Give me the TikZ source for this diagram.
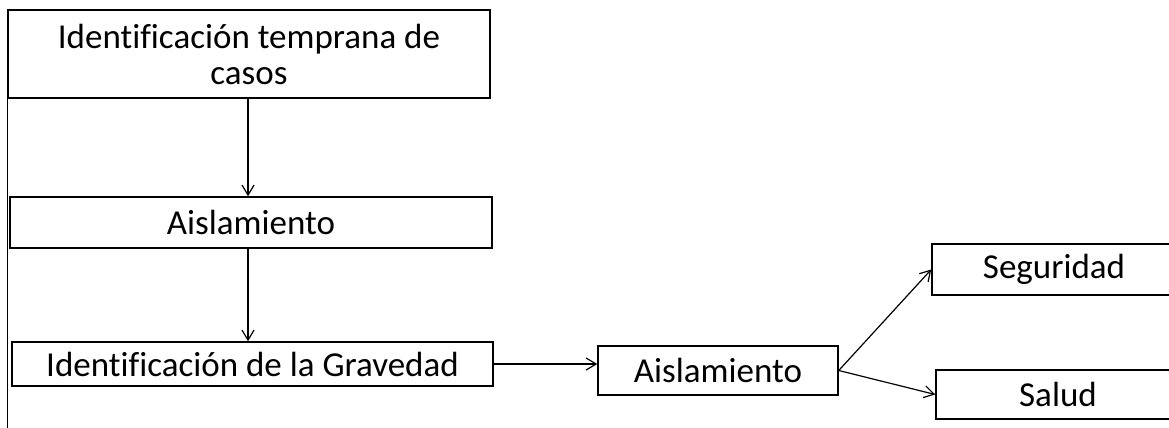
\documentclass[tikz,border=0pt]{standalone}
\usepackage{fontspec}
\setmainfont[Ligatures=NoCommon]{Carlito}
\usetikzlibrary{arrows.meta}

\begin{document}
\begin{tikzpicture}[x=0.5pt, y=-0.5pt,
    box/.style={draw, line width=0.75pt, inner sep=0pt, align=center,
                font=\fontsize{17.5}{18}\selectfont},
    flecha/.style={-{Straight Barb[length=5pt, width=6pt]}, line width=0.6pt}]
    % Page frame
    \useasboundingbox (0,0) rectangle (1169,428);
    \clip (0,0) rectangle (1169,428);

    % Left column
    \node[box, minimum width=241pt, minimum height=44pt] (casos) at (249,54)
        {Identificación temprana de\\casos};
    \node[box, minimum width=241pt, minimum height=25.5pt] (aisla) at (251,222.5) {Aislamiento};
    \node[box, minimum width=240.5pt, minimum height=22pt] (grav) at (252.5,364) {Identificación de la Gravedad};

    % Left rule running down the page
    \draw[line width=0.75pt] (casos.north west) -- (casos.north west |- 0,428);

    % Middle and right boxes (right ones run off the page)
    \node[box, minimum width=120pt, minimum height=24.5pt] (aisla2) at (718,370.5) {Aislamiento};
    \node[box, minimum width=122pt, minimum height=25.5pt] (seg) at (1054,269.5) {Seguridad};
    \node[box, minimum width=122pt, minimum height=24.5pt] (salud) at (1058,394.5) {Salud};

    % Connectors
    \draw[flecha] (casos.south -| 248,0) -- (aisla.north -| 248,0);
    \draw[flecha] (aisla.south -| 248,0) -- (grav.north -| 248,0);
    \draw[flecha] (grav.east) -- (grav.east -| aisla2.west);
    \draw[flecha] (aisla2.east) -- (seg.west);
    \draw[flecha] (aisla2.east) -- (salud.west);
\end{tikzpicture}
\end{document}
